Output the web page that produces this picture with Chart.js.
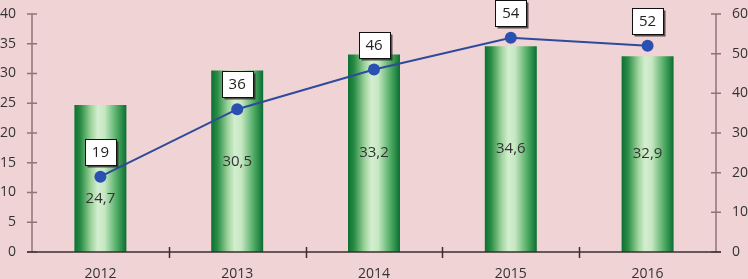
<!DOCTYPE html>
<html>
<head>
<meta charset="utf-8">
<script src="https://cdn.jsdelivr.net/npm/chart.js@4/dist/chart.umd.min.js"></script>
<style>
html,body{margin:0;padding:0;background:#f0d4d5;}
#wrap{width:748px;height:279px;position:relative;}
</style>
</head>
<body>
<div id="wrap"><canvas id="c" width="748" height="279"></canvas></div>
<script>
const categories = ['2012', '2013', '2014', '2015', '2016'];
const barValues = [24.7, 30.5, 33.2, 34.6, 32.9];
const lineValues = [19, 36, 46, 54, 52];
const leftTicks = [0, 5, 10, 15, 20, 25, 30, 35, 40];
const rightTicks = [0, 10, 20, 30, 40, 50, 60];

const FONT = "'Open Sans', 'DejaVu Sans', sans-serif";
const TEXT = '#333333';
const BAR_PCT = 0.38;

function fmt(v){ return String(v).replace('.', ','); }

function barGradient(c){
  const chart = c.chart;
  if (!chart.chartArea || !chart.scales.x) return '#3fa55a';
  const xs = chart.scales.x;
  const cx = xs.getPixelForValue(c.dataIndex);
  const w = (xs.width / categories.length) * BAR_PCT;
  const g = chart.ctx.createLinearGradient(cx - w/2, 0, cx + w/2, 0);
  g.addColorStop(0, '#0b7033');
  g.addColorStop(0.12, '#2a8d45');
  g.addColorStop(0.32, '#9dd39c');
  g.addColorStop(0.45, '#d3eecf');
  g.addColorStop(0.58, '#c6e8c2');
  g.addColorStop(0.82, '#4fab63');
  g.addColorStop(1, '#0a6e32');
  return g;
}

const bgPlugin = {
  id: 'bg',
  beforeDraw(chart){
    const ctx = chart.ctx;
    ctx.save();
    ctx.fillStyle = '#f0d4d5';
    ctx.fillRect(0, 0, chart.width, chart.height);
    ctx.restore();
  }
};

const axesPlugin = {
  id: 'axesMarks',
  afterDraw(chart){
    const ctx = chart.ctx;
    const a = chart.chartArea;
    const y = chart.scales.y, y1 = chart.scales.y1, x = chart.scales.x;
    ctx.save();
    ctx.lineWidth = 1.5;
    ctx.strokeStyle = '#8e7377';
    ctx.beginPath();
    ctx.moveTo(a.left, a.top); ctx.lineTo(a.left, a.bottom);
    leftTicks.forEach(v => { const p = y.getPixelForValue(v); ctx.moveTo(a.left - 5, p); ctx.lineTo(a.left + 5, p); });
    ctx.moveTo(a.right, a.top); ctx.lineTo(a.right, a.bottom);
    rightTicks.forEach(v => { const p = y1.getPixelForValue(v); ctx.moveTo(a.right - 5, p); ctx.lineTo(a.right + 5, p); });
    ctx.stroke();
    ctx.strokeStyle = '#3b2e30';
    ctx.beginPath();
    ctx.moveTo(a.left - 5, a.bottom); ctx.lineTo(a.right + 5, a.bottom);
    const step = x.width / categories.length;
    for (let i = 1; i < categories.length; i++){
      const px = Math.round(a.left + step * i) + 0.5;
      ctx.moveTo(px, a.bottom - 5); ctx.lineTo(px, a.bottom + 6);
    }
    ctx.stroke();
    ctx.restore();
  }
};

const labelsPlugin = {
  id: 'valLabels',
  afterDatasetsDraw(chart){
    const ctx = chart.ctx;
    ctx.save();
    ctx.font = "15px " + FONT;
    ctx.textAlign = 'center';
    ctx.textBaseline = 'middle';
    const bm = chart.getDatasetMeta(0);
    bm.data.forEach((el, i) => {
      let yy = (el.y + el.base) / 2;
      if (i === 0) yy += 20;
      ctx.fillStyle = TEXT;
      ctx.fillText(fmt(barValues[i]), el.x, yy);
    });
    const lm = chart.getDatasetMeta(1);
    lm.data.forEach((el, i) => {
      const w = 31, h = 26;
      const cx = el.x, cy = el.y - 25;
      const bx = Math.round(cx - w/2) + 0.5, by = Math.round(cy - h/2) + 0.5;
      ctx.fillStyle = 'rgba(40,30,30,0.75)';
      ctx.fillRect(bx + 2, by + 2, w, h);
      ctx.fillStyle = '#ffffff';
      ctx.fillRect(bx, by, w, h);
      ctx.strokeStyle = '#111111';
      ctx.lineWidth = 1;
      ctx.strokeRect(bx, by, w, h);
      ctx.fillStyle = '#222222';
      ctx.fillText(fmt(lineValues[i]), cx, cy + 1);
    });
    ctx.restore();
  }
};

function fixV(w){ return function(s){ s.width = w; s.paddingTop = 0; s.paddingBottom = 0; }; }

new Chart(document.getElementById('c'), {
  type: 'bar',
  data: {
    labels: categories,
    datasets: [
      {
        type: 'bar',
        data: barValues,
        yAxisID: 'y',
        backgroundColor: barGradient,
        borderWidth: 0,
        barPercentage: BAR_PCT,
        categoryPercentage: 1,
        order: 2
      },
      {
        type: 'line',
        data: lineValues,
        yAxisID: 'y1',
        borderColor: '#2d4a9c',
        borderWidth: 2,
        pointRadius: 6,
        pointHoverRadius: 6,
        pointBackgroundColor: '#2a50b2',
        pointBorderColor: '#2a50b2',
        pointBorderWidth: 0,
        tension: 0,
        order: 1
      }
    ]
  },
  options: {
    responsive: false,
    animation: false,
    devicePixelRatio: 1,
    layout: { padding: { top: 14, left: 0, right: 0, bottom: 0 } },
    plugins: { legend: { display: false }, tooltip: { enabled: false } },
    scales: {
      x: {
        grid: { display: false, drawTicks: false },
        border: { display: false },
        ticks: { color: TEXT, font: { family: FONT, size: 14 }, padding: 14, maxRotation: 0 },
        afterFit(s){ s.height = 27; s.paddingLeft = 0; s.paddingRight = 0; }
      },
      y: {
        position: 'left',
        min: 0, max: 40,
        grid: { display: false, drawTicks: false },
        border: { display: false },
        ticks: { stepSize: 5, color: TEXT, font: { family: FONT, size: 14 }, padding: 16 },
        afterFit: fixV(32)
      },
      y1: {
        position: 'right',
        min: 0, max: 60,
        grid: { display: false, drawTicks: false },
        border: { display: false },
        ticks: { stepSize: 10, color: TEXT, font: { family: FONT, size: 14 }, padding: 16 },
        afterFit: fixV(32)
      }
    }
  },
  plugins: [bgPlugin, axesPlugin, labelsPlugin]
});
</script>
</body>
</html>
